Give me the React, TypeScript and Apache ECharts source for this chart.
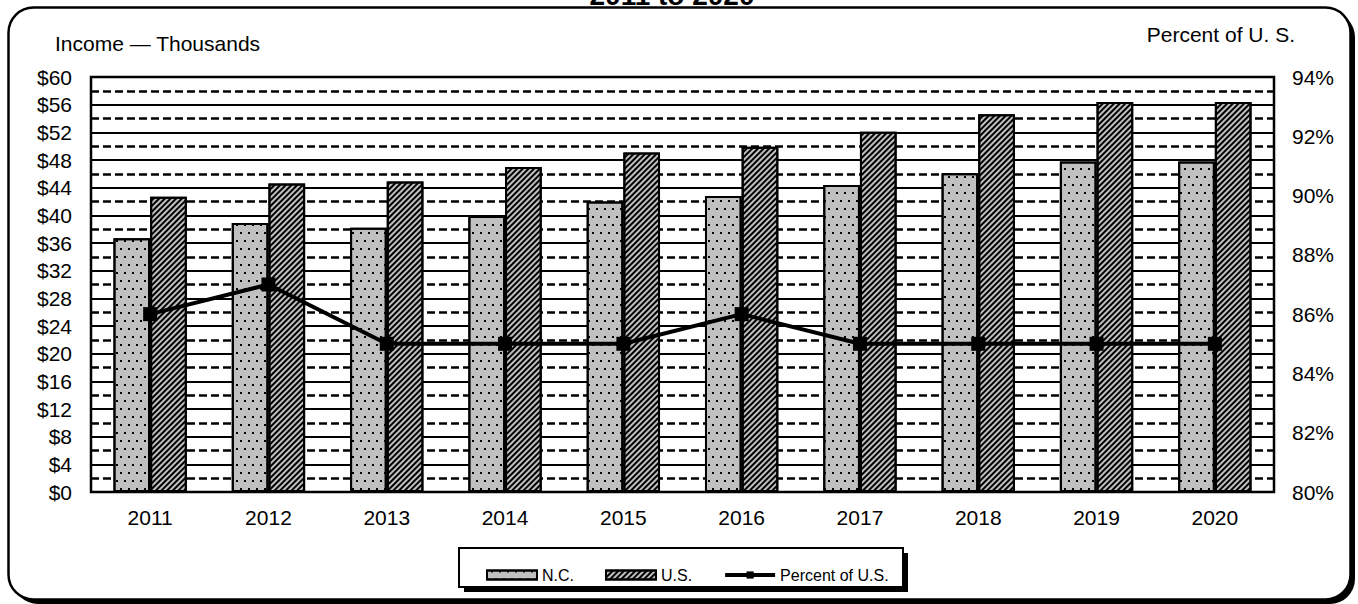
import React, { useEffect, useRef } from 'react';
import * as echarts from 'echarts';

const years = ['2011', '2012', '2013', '2014', '2015', '2016', '2017', '2018', '2019', '2020'];
const ncIncome = [36.7, 38.9, 38.2, 39.9, 42.0, 42.8, 44.4, 46.1, 47.8, 47.8];
const usIncome = [42.7, 44.6, 44.9, 47.0, 49.1, 49.9, 52.1, 54.6, 56.4, 56.4];
const pctOfUS = [86, 87, 85, 85, 85, 86, 85, 85, 85, 85];

const FONT = '"Liberation Sans", Arial, sans-serif';

export default function App() {
  const ref = useRef<HTMLDivElement>(null);
  useEffect(() => {
    if (!ref.current) return;
    const chart = echarts.init(ref.current, null, { renderer: 'svg' });
    const option: any = {
      animation: false,
      backgroundColor: 'transparent',
      textStyle: { fontFamily: FONT, color: '#000' },
      graphic: {
        elements: [
          {
            type: 'rect', z: -100,
            shape: { x: 13, y: 12, width: 1342, height: 592, r: 25 },
            style: { fill: '#000' },
          },
          {
            type: 'rect', z: -99,
            shape: { x: 8.5, y: 7.5, width: 1342, height: 592, r: 25 },
            style: { fill: '#fff', stroke: '#000', lineWidth: 2.5 },
          },
          {
            type: 'rect', z: -60,
            shape: { x: 464, y: 553, width: 444, height: 39 },
            style: { fill: '#000' },
          },
          {
            type: 'rect', z: -59,
            shape: { x: 459, y: 548, width: 444, height: 39 },
            style: { fill: '#fff', stroke: '#000', lineWidth: 2 },
          },
          {
            type: 'text', z: 10, x: 672, y: -5,
            style: { text: '2011 to 2020', fontSize: 28, fontWeight: 'bold', fontFamily: FONT, fill: '#000', align: 'center', verticalAlign: 'middle' },
          },
          {
            type: 'text', z: 10, x: 55, y: 43,
            style: { text: 'Income — Thousands', fontSize: 21, fontFamily: FONT, fill: '#000', align: 'left', verticalAlign: 'middle' },
          },
          {
            type: 'text', z: 10, x: 1295, y: 34,
            style: { text: 'Percent of U. S.', fontSize: 21, fontFamily: FONT, fill: '#000', align: 'right', verticalAlign: 'middle' },
          },
        ],
      },
      legend: {
        left: 486,
        top: 567,
        padding: 0,
        itemWidth: 50,
        itemHeight: 9,
        itemGap: 31,
        textStyle: { fontSize: 16, fontFamily: FONT, color: '#000' },
        data: [
          { name: 'N.C.', icon: 'rect' },
          { name: 'U.S.', icon: 'rect' },
          { name: 'Percent of U.S.', lineStyle: { width: 4, color: '#000' }, itemStyle: { color: '#000' } },
        ],
      },
      grid: {
        left: 91, top: 77, width: 1183, height: 415,
        show: true, borderColor: '#000', borderWidth: 2.5, backgroundColor: 'transparent',
      },
      xAxis: {
        type: 'category',
        data: years,
        axisLine: { show: false },
        axisTick: { show: false },
        axisLabel: { fontSize: 21, fontFamily: FONT, color: '#000', margin: 15 },
      },
      yAxis: [
        {
          type: 'value', min: 0, max: 60, interval: 4,
          axisLine: { show: false }, axisTick: { show: false },
          axisLabel: { fontSize: 21, fontFamily: FONT, color: '#000', margin: 19, formatter: (v: number) => '$' + v },
          splitLine: { show: true, lineStyle: { color: '#000', width: 2 } },
          minorTick: { show: false, splitNumber: 2 },
          minorSplitLine: { show: true, lineStyle: { color: '#000', width: 2.5, type: [8, 4] } },
        },
        {
          type: 'value', min: 80, max: 94, interval: 2,
          axisLine: { show: false }, axisTick: { show: false },
          axisLabel: { fontSize: 21, fontFamily: FONT, color: '#000', margin: 18, formatter: '{value}%' },
          splitLine: { show: false },
        },
      ],
      series: [
        {
          name: 'N.C.', type: 'bar', data: ncIncome, barWidth: '31%', barGap: '0%',
          itemStyle: {
            color: '#c0c0c0', borderColor: '#000', borderWidth: 2,
            decal: {
              symbol: 'rect', symbolSize: 1, color: '#000',
              dashArrayX: [[2, 6], [0, 4, 2, 2]], dashArrayY: [2, 5.5],
            },
          },
        },
        {
          name: 'U.S.', type: 'bar', data: usIncome, barWidth: '31%', barGap: '0%',
          itemStyle: {
            color: '#c0c0c0', borderColor: '#000', borderWidth: 2,
            decal: {
              symbol: 'rect', symbolSize: 1, color: '#000',
              dashArrayX: [1, 0], dashArrayY: [1.5, 1.5], rotation: -Math.PI / 4,
            },
          },
        },
        {
          name: 'Percent of U.S.', type: 'line', yAxisIndex: 1, data: pctOfUS,
          symbol: 'rect', symbolSize: 14, z: 5,
          lineStyle: { color: '#000', width: 4 },
          itemStyle: { color: '#000' },
        },
      ],
    };
    chart.setOption(option);
    return () => chart.dispose();
  }, []);
  return <div ref={ref} style={{ position: 'absolute', left: 0, top: 0, width: 1358, height: 604 }} />;
}
